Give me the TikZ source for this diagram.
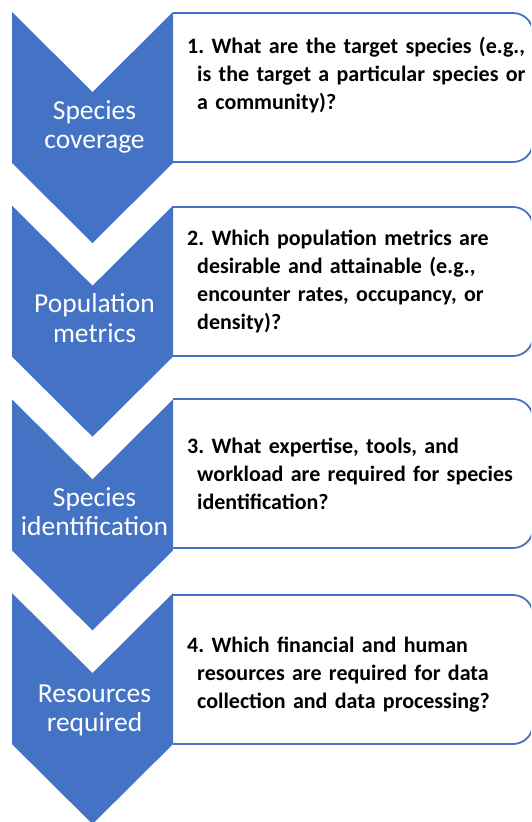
\documentclass[tikz,border=0pt]{standalone}
\usepackage{fontspec}
\setmainfont{Carlito}
\definecolor{officeblue}{HTML}{4472C4}
\begin{document}
\begin{tikzpicture}[x=1pt,y=-1pt,
  chev/.style={fill=officeblue,draw=none},
  qbox/.style={draw=officeblue,line width=1.8pt,fill=white,rounded corners=20pt},
  chevlabel/.style={text=white,align=center,inner sep=0pt,anchor=base,
    font=\fontsize{27.5}{29.5}\selectfont},
  qtext/.style={text=black,inner sep=0pt,anchor=base west,text width=400pt,
    font=\fontsize{22}{28}\selectfont\bfseries\frenchspacing}
]
\useasboundingbox (0,0) rectangle (531,822);
\clip (0,0) rectangle (531,822);
% boxes
\foreach \t/\n in {13/b1,207/b2,399/b3,595/b4}{
  \path[qbox] (173,\t) -- (533,\t) -- (533,\t+149) -- (173,\t+149);
}
% chevrons
\foreach \t/\n in {12/c1,205.7/c2,399.4/c3,593.1/c4}{
  \path[chev] (12,\t) -- (92.5,\t+80) -- (173,\t) -- (173,\t+151) -- (92.5,\t+231) -- (12,\t+151) -- cycle;
}
\node[chevlabel] (l1) at (94.5,148.5) {Species\\coverage};
\node[chevlabel] (l2) at (94.5,342.2) {Population\\metrics};
\node[chevlabel] (l3) at (94.5,535.9) {Species\\identification};
\node[chevlabel] (l4) at (94.5,731.6) {Resources\\required};
\node[qtext] (q1) at (187,53) {\hangindent=10pt\hangafter=1 1. What are the target species (e.g.,\newline is the target a particular species or\newline a community)?\par};
\node[qtext] (q2) at (187,245) {\hangindent=10pt\hangafter=1 2. Which population metrics are\newline desirable and attainable (e.g.,\newline encounter rates, occupancy, or\newline density)?\par};
\node[qtext] (q3) at (187,453) {\hangindent=10pt\hangafter=1 3. What expertise, tools, and\newline workload are required for species\newline identification?\par};
\node[qtext] (q4) at (187,652) {\hangindent=10pt\hangafter=1 4. Which financial and human\newline resources are required for data\newline collection and data processing?\par};
\end{tikzpicture}
\end{document}
